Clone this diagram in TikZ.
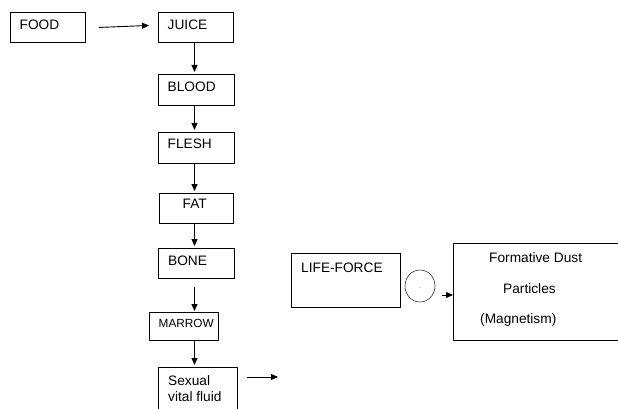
\documentclass[tikz,border=0pt]{standalone}
\usepackage{fontspec}
\setmainfont{Liberation Sans}
\usetikzlibrary{arrows.meta,shapes.geometric}
\begin{document}
\begin{tikzpicture}[x=1pt,y=-1pt,
  box/.style={draw=black,line width=0.9pt,inner sep=0pt},
  txt/.style={anchor=base west,inner sep=0pt,font=\fontsize{13.7}{16}\selectfont,text=black},
  arr/.style={draw=black,line width=0.9pt,-{Triangle[length=7pt,width=6pt]}}]
\useasboundingbox (0,0) rectangle (618,409);
% boxes
\node[box,minimum width=75pt,minimum height=30pt,anchor=north west] (food) at (10,12) {};
\node[box,minimum width=75pt,minimum height=30pt,anchor=north west] (juice) at (158,12) {};
\node[box,minimum width=76pt,minimum height=31pt,anchor=north west] (blood) at (158,74) {};
\node[box,minimum width=76pt,minimum height=31pt,anchor=north west] (flesh) at (158,132) {};
\node[box,minimum width=74pt,minimum height=30pt,anchor=north west] (fat) at (159,193) {};
\node[box,minimum width=76pt,minimum height=30pt,anchor=north west] (bone) at (158,248) {};
\node[box,minimum width=69pt,minimum height=28pt,anchor=north west] (marrow) at (149,312) {};
\node[box,minimum width=79pt,minimum height=46pt,anchor=north west] (sexual) at (158,367) {};
\node[box,minimum width=109pt,minimum height=54pt,anchor=north west] (life) at (291,253) {};
\node[draw=black!80,line width=0.6pt,ellipse,minimum width=30pt,minimum height=32pt,inner sep=0pt] (circ) at (420,286) {};
\node[box,minimum width=164.5pt,minimum height=97pt,anchor=north west] (dust) at (453,243) {};
% texts
\node[txt] (tfood) at (19.5,29.5) {FOOD};
\node[txt] (tjuice) at (167.5,29.5) {JUICE};
\node[txt] (tblood) at (167.5,92) {BLOOD};
\node[txt] (tflesh) at (167.5,149) {FLESH};
\node[txt] (tfat) at (182.5,208.5) {FAT};
\node[txt] (tbone) at (168,265.5) {BONE};
\node[txt,font=\fontsize{11.8}{14}\selectfont] (tmarrow) at (158.5,327.5) {MARROW};
\node[txt] (tsex1) at (168,385) {Sexual};
\node[txt] (tsex2) at (168,401) {vital fluid};
\node[txt] (tlife) at (301,272) {LIFE-FORCE};
\node[txt,font=\fontsize{8}{9}\selectfont,text=black!60] (tdot) at (419,288) {.};
\node[txt] (td1) at (489,262) {Formative Dust};
\node[txt] (td2) at (503,293) {Particles};
\node[txt] (td3) at (480,323) {(Magnetism)};
% connectors
\coordinate (axis) at (194.5,0);
\draw[arr] ([xshift=13pt]food.east) -- ([xshift=-9pt,yshift=2pt]juice.west);
\draw[arr,shorten >=2pt] (juice.south -| axis) -- (blood.north -| axis);
\draw[arr,shorten >=2pt] (blood.south -| axis) -- (flesh.north -| axis);
\draw[arr,shorten >=2pt] (flesh.south -| axis) -- (fat.north -| axis);
\draw[arr,shorten >=2pt] (fat.south -| axis) -- (bone.north -| axis);
\draw[arr,shorten <=8pt,shorten >=1pt] (bone.south -| axis) -- (marrow.north -| axis);
\draw[arr,shorten >=2pt] (marrow.south -| axis) -- (sexual.north -| axis);
\coordinate (sexend) at (278,377);
\draw[arr] (sexual.north east) ++(9,10) -- (sexend);
\coordinate (ca) at (442,295);
\draw[arr] (ca) -- (ca -| dust.west);
\end{tikzpicture}
\end{document}
